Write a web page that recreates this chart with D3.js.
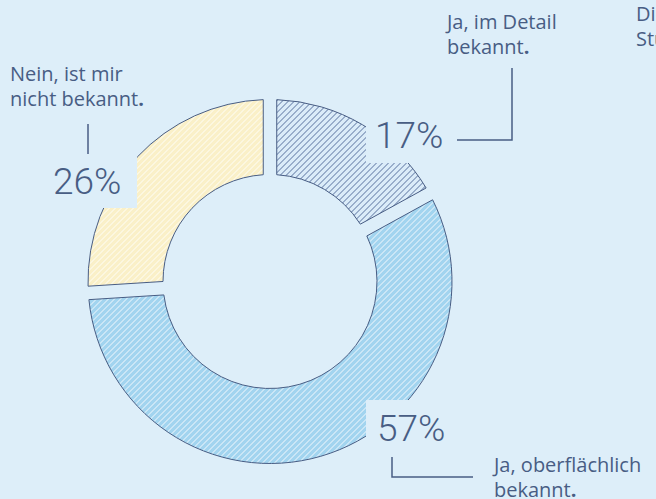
<!DOCTYPE html>
<html>
<head>
<meta charset="utf-8">
<script src="https://cdn.jsdelivr.net/npm/d3@7"></script>
<style>
  body { margin: 0; background: #ddeef9; overflow: hidden; }
  svg { display: block; }
  text { font-family: "Open Sans", Roboto, sans-serif; fill: #485d84; }
  text.pct { font-family: Roboto, sans-serif; }
</style>
</head>
<body>
<div id="chart"></div>
<script>
// data
var categories = ["Ja, im Detail bekannt.", "Ja, oberflächlich bekannt.", "Nein, ist mir nicht bekannt."];
var values = [17, 57, 26];
var labelLines = [["Ja, im Detail", "bekannt"], ["Ja, oberflächlich", "bekannt"], ["Nein, ist mir", "nicht bekannt"]];
var sideNote = ["Die", "Studie"];

var width = 656, height = 499;
var cx = 270, cy = 281.5;
var outerR = 182, innerR = 107;
var ink = "#485d84";

var svg = d3.select("#chart").append("svg")
    .attr("width", width)
    .attr("height", height);

svg.append("rect").attr("width", width).attr("height", height).attr("fill", "#ddeef9");

// hatch patterns
var defs = svg.append("defs");
var patterns = [
    {id: "hatch0", bg: "#dbecf9", line: "#56709c", lw: 1.0},
    {id: "hatch1", bg: "#a2d4ef", line: "#ffffff", lw: 0.85},
    {id: "hatch2", bg: "#faf0c8", line: "#ffffff", lw: 0.85}
];
patterns.forEach(function(p) {
    var pat = defs.append("pattern")
        .attr("id", p.id)
        .attr("patternUnits", "userSpaceOnUse")
        .attr("width", 6)
        .attr("height", 6);
    pat.append("rect").attr("width", 6).attr("height", 6).attr("fill", p.bg);
    pat.append("path")
        .attr("d", "M0,6 L6,0 M-1,1 L1,-1 M5,7 L7,5")
        .attr("stroke", p.line)
        .attr("stroke-width", p.lw);
});

var pie = d3.pie().sort(null).value(function(d) { return d; });
var arc = d3.arc()
    .innerRadius(innerR)
    .outerRadius(outerR)
    .padAngle(0.135)
    .padRadius(100);

var g = svg.append("g").attr("transform", "translate(" + cx + "," + cy + ")");

g.selectAll("path.slice")
    .data(pie(values))
    .enter().append("path")
    .attr("class", "slice")
    .attr("d", arc)
    .attr("fill", function(d, i) { return "url(#hatch" + i + ")"; })
    .attr("stroke", ink)
    .attr("stroke-width", 1);

// label layout (percent box + leader + description)
var layout = [
    {px: 375, py: 148, box: [366, 112, 82, 51],
     leader: [[457, 140], [512, 140], [512, 68]],
     tx: 447, ty: 29},
    {px: 377, py: 441, box: [366, 400, 90, 55],
     leader: [[392, 457], [392, 477], [473, 477]],
     tx: 494, ty: 472},
    {px: 53, py: 194, box: [42, 156, 95, 52],
     leader: [[88, 124], [88, 154]],
     tx: 10, ty: 81}
];

var fmt = function(v) { return v + "%"; };

layout.forEach(function(l, i) {
    svg.append("rect")
        .attr("x", l.box[0]).attr("y", l.box[1])
        .attr("width", l.box[2]).attr("height", l.box[3])
        .attr("fill", "#ddeef9");

    svg.append("text")
        .attr("class", "pct")
        .attr("x", l.px).attr("y", l.py)
        .style("font-size", "37px")
        .style("font-weight", 300)
        .text(fmt(values[i]));

    svg.append("path")
        .attr("d", d3.line()(l.leader))
        .attr("fill", "none")
        .attr("stroke", ink)
        .attr("stroke-width", 1.5);

    var t = svg.append("text")
        .attr("x", l.tx).attr("y", l.ty)
        .style("font-size", "20px");
    labelLines[i].forEach(function(line, j) {
        t.append("tspan")
            .attr("x", l.tx)
            .attr("dy", j === 0 ? 0 : 25)
            .text(line);
        if (j === labelLines[i].length - 1) {
            t.append("tspan").style("font-weight", 700).text(".");
        }
    });
});

var note = svg.append("text")
    .attr("x", 636).attr("y", 21)
    .style("font-size", "20px");
sideNote.forEach(function(line, j) {
    note.append("tspan").attr("x", 636).attr("dy", j === 0 ? 0 : 25).text(line);
});
</script>
</body>
</html>
